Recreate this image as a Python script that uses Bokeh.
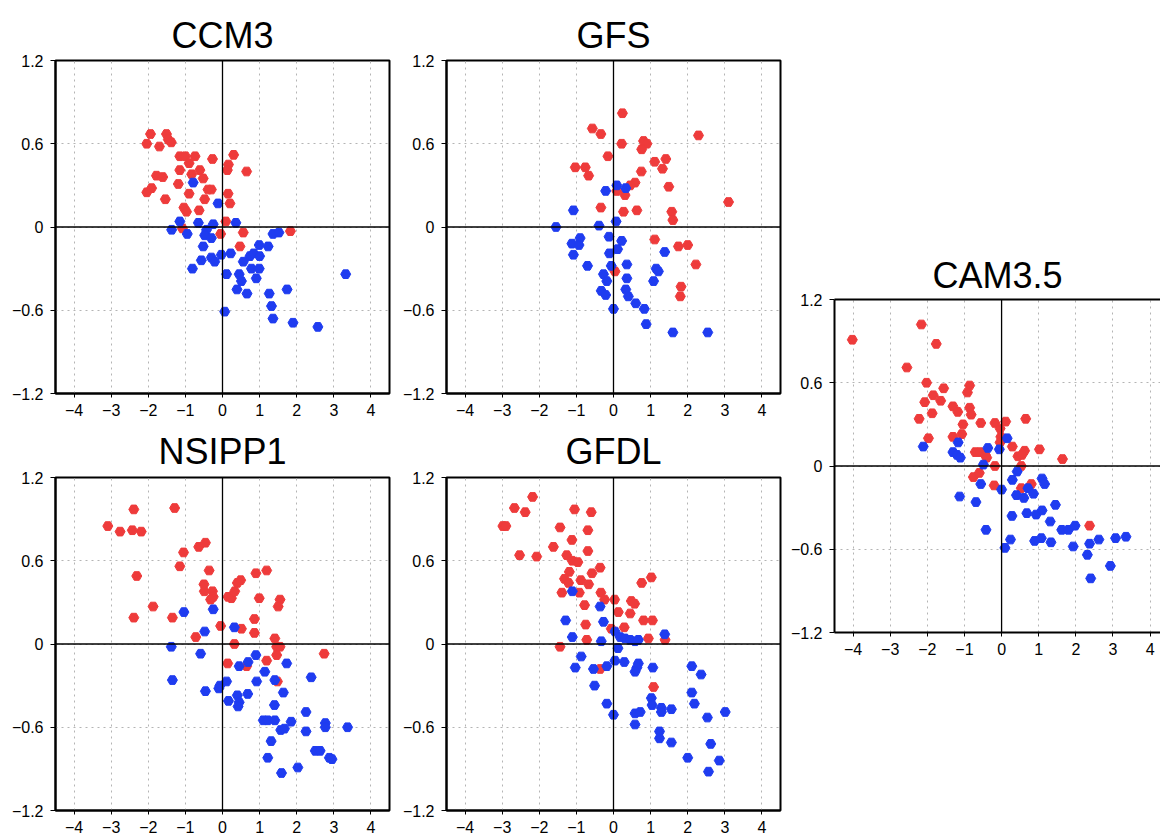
from bokeh.embed import file_html
from bokeh.layouts import column, row
from bokeh.models import FixedTicker, LinearAxis, Range1d, Spacer, Span
from bokeh.plotting import figure
from bokeh.resources import INLINE

FONT = "Liberation Sans"
RED = "#ee3b3b"
BLUE = "#1f3cf0"

X_TICKS = [-4, -3, -2, -1, 0, 1, 2, 3, 4]
X_LABELS = ["\u22124", "\u22123", "\u22122", "\u22121", "0", "1", "2", "3", "4"]
Y_TICKS = [-1.2, -0.6, 0, 0.6, 1.2]
Y_LABELS = ["\u22121.2", "\u22120.6", "0", "0.6", "1.2"]

# CCM3
ccm3_red_x = [-1.94, -2.04, -1.70, -1.51, -1.46, -1.38, -1.15, -1.00, -0.74, -0.90,
              -1.15, -1.78, -1.61, -1.91, -2.04, -1.54, -1.19, -0.83, -0.61, -0.52,
              -0.27, 0.30, 0.16, 0.13, 0.65, -0.90, -0.39, -0.30, -0.48, 0.15,
              0.20, -1.04, -0.97, -0.63, 0.09, -1.08, -0.05, 0.56, 0.47, 1.83]
ccm3_red_y = [0.67, 0.60, 0.58, 0.67, 0.63, 0.61, 0.51, 0.51, 0.51, 0.46,
              0.41, 0.37, 0.36, 0.28, 0.25, 0.20, 0.31, 0.38, 0.41, 0.35,
              0.49, 0.52, 0.45, 0.41, 0.40, 0.24, 0.27, 0.27, 0.20, 0.24,
              0.17, 0.14, 0.11, 0.12, 0.04, -0.01, -0.05, -0.04, -0.14, -0.03]
ccm3_blue_x = [-0.79, -0.12, -1.15, -1.37, -0.95, -0.65, -0.25, 0.36, -0.43, -0.48,
               -0.30, -0.52, -0.57, -0.81, -0.30, -0.21, -0.03, 0.22, 0.11, 0.45,
               0.51, 0.39, 0.66, 0.56, 0.74, 0.84, 0.99, 1.00, 0.78, 0.99,
               0.91, 1.23, 1.36, 1.52, 1.26, 1.32, 1.36, 1.74, 1.90, 2.57,
               3.32, 0.06]
ccm3_blue_y = [0.32, 0.17, 0.04, -0.02, -0.05, 0.03, 0.02, 0.03, -0.02, -0.06,
               -0.08, -0.14, -0.24, -0.30, -0.22, -0.25, -0.20, -0.19, -0.34, -0.34,
               -0.39, -0.45, -0.48, -0.25, -0.21, -0.19, -0.13, -0.21, -0.30, -0.30,
               -0.37, -0.14, -0.05, -0.04, -0.48, -0.57, -0.66, -0.45, -0.69, -0.72,
               -0.34, -0.61]

# GFS
gfs_red_x = [0.24, -0.57, -0.34, 0.22, 0.81, 0.90, 0.76, 2.29, -0.15, -1.03,
             -0.76, -0.67, 1.11, 1.41, 1.32, 0.75, 0.58, 0.45, 1.49, 0.09,
             0.31, 3.10, -0.34, 0.27, 0.63, 1.57, 1.60, 1.11, 1.75, 2.00,
             2.22, 0.04, 1.82, 1.80]
gfs_red_y = [0.82, 0.71, 0.67, 0.60, 0.62, 0.60, 0.56, 0.66, 0.51, 0.43,
             0.43, 0.37, 0.47, 0.49, 0.42, 0.40, 0.32, 0.30, 0.29, 0.26,
             0.23, 0.18, 0.14, 0.11, 0.12, 0.11, 0.05, -0.09, -0.14, -0.13,
             -0.27, -0.32, -0.43, -0.50]
gfs_blue_x = [0.09, -0.21, 0.33, -1.08, -1.55, -0.39, 0.07, -1.12, -0.90, -0.93,
              -1.08, -0.70, -0.12, 0.22, 0.11, -0.11, -0.06, 0.36, -0.27, -0.18,
              0.36, 0.33, 0.40, -0.33, -0.21, 0.60, 0.00, 0.83, 1.38, 1.15,
              1.21, 1.08, 0.88, 1.60, 2.54]
gfs_blue_y = [0.30, 0.26, 0.28, 0.12, 0.00, 0.01, 0.04, -0.12, -0.08, -0.13,
              -0.20, -0.28, -0.07, -0.10, -0.16, -0.19, -0.28, -0.27, -0.34, -0.39,
              -0.37, -0.45, -0.50, -0.46, -0.49, -0.55, -0.59, -0.59, -0.18, -0.30,
              -0.32, -0.39, -0.70, -0.76, -0.76]

# NSIPP1
nsipp1_red_x = [-2.39, -1.29, -3.09, -2.76, -2.43, -2.19, -2.31, -1.87, -2.39, -1.35,
                -1.05, -1.15, -0.64, -0.46, -0.36, -0.50, -0.49, -0.27, -0.25, -0.32,
                0.15, 0.24, 0.33, 0.40, 0.49, 0.90, 1.19, 0.99, 1.55, 1.50,
                0.86, 0.86, -0.05, 0.51, -0.72, 0.32, 1.41, 1.46, 1.55, 1.46,
                0.14, 0.65, 1.19, 2.74, 1.48]
nsipp1_red_y = [0.97, 0.98, 0.85, 0.81, 0.82, 0.81, 0.49, 0.27, 0.19, 0.19,
                0.66, 0.56, 0.70, 0.73, 0.53, 0.43, 0.38, 0.38, 0.34, 0.32,
                0.34, 0.33, 0.38, 0.44, 0.46, 0.51, 0.53, 0.33, 0.32, 0.27,
                0.18, 0.08, 0.13, 0.11, 0.05, 0.00, 0.04, -0.02, -0.02, -0.08,
                -0.14, -0.16, -0.12, -0.07, -0.27]
nsipp1_blue_x = [-1.04, -0.25, -0.48, 0.32, -1.38, -0.59, -1.35, -0.46, -0.07, 0.11,
                 0.16, 0.45, 0.69, 0.90, 0.40, 0.45, 0.68, 0.92, 1.14, 1.41,
                 1.73, 1.64, 1.40, 2.39, 2.25, 2.25, 1.85, 1.10, 1.22, 1.41,
                 1.57, 1.67, 1.31, 1.22, 1.59, 2.03, 2.50, 2.63, 2.77, 2.77,
                 2.88, 2.95, 3.37, 0.42, -0.10]
nsipp1_blue_y = [0.23, 0.25, 0.09, 0.12, -0.02, -0.07, -0.26, -0.34, -0.30, -0.27,
                 -0.41, -0.16, -0.13, -0.08, -0.37, -0.42, -0.36, -0.27, -0.20, -0.26,
                 -0.14, -0.35, -0.44, -0.24, -0.49, -0.63, -0.56, -0.55, -0.55, -0.55,
                 -0.62, -0.61, -0.70, -0.82, -0.93, -0.89, -0.77, -0.77, -0.57, -0.60,
                 -0.82, -0.83, -0.60, -0.45, -0.32]

# GFDL
gfdl_red_x = [-2.18, -2.67, -2.38, -2.98, -2.90, -2.53, -2.07, -1.05, -0.60, -1.44,
              -0.69, -1.12, -1.62, -0.69, -1.26, -1.11, -0.96, -1.19, -1.32, -1.21,
              -0.88, -0.67, -0.58, -0.36, -1.39, -0.92, -0.34, -0.24, 0.03, -0.78,
              0.48, 0.57, 0.13, 0.45, 0.76, 1.02, -0.75, 0.29, -0.06, 0.81,
              1.05, -0.72, 0.94, 1.39, -1.44, -0.36, 1.08]
gfdl_red_y = [1.06, 0.98, 0.95, 0.85, 0.85, 0.64, 0.63, 0.97, 0.95, 0.84,
              0.82, 0.75, 0.70, 0.67, 0.64, 0.60, 0.59, 0.52, 0.47, 0.44,
              0.46, 0.43, 0.51, 0.55, 0.37, 0.37, 0.37, 0.32, 0.32, 0.28,
              0.31, 0.29, 0.23, 0.22, 0.44, 0.48, 0.14, 0.12, 0.11, 0.17,
              0.17, 0.03, 0.04, 0.03, -0.02, -0.18, -0.31]
gfdl_blue_x = [-1.11, -0.36, -1.29, -0.27, -1.11, -0.33, 0.04, 0.18, 0.31, 0.45,
               0.58, 0.67, 1.38, 0.12, -0.87, -1.03, -0.54, -0.18, 0.04, 0.29,
               0.67, 0.63, 0.58, 1.06, 2.11, 2.36, -0.51, 2.11, 2.18, -0.18,
               0.00, 1.02, 1.04, 1.29, 1.29, 1.56, 0.58, 0.72, 0.58, 3.01,
               2.53, 1.24, 1.24, 1.56, 2.62, 2.00, 2.85, 2.56]
gfdl_blue_y = [0.38, 0.27, 0.17, 0.16, 0.05, 0.02, 0.09, 0.05, 0.04, 0.03,
               0.02, 0.03, 0.07, -0.03, -0.09, -0.17, -0.18, -0.16, -0.12, -0.13,
               -0.14, -0.17, -0.20, -0.17, -0.16, -0.22, -0.30, -0.35, -0.43, -0.43,
               -0.51, -0.39, -0.44, -0.46, -0.49, -0.47, -0.50, -0.49, -0.58, -0.49,
               -0.53, -0.63, -0.68, -0.71, -0.72, -0.82, -0.84, -0.92]

# CAM3.5
cam35_red_x = [-4.02, -2.16, -1.76, -2.55, -2.02, -2.07, -1.84, -1.64, -1.56, -2.22,
               -1.87, -1.31, -1.18, -0.86, -0.92, -0.86, -0.82, -1.04, -1.07, -1.31,
               -1.97, -0.56, -0.18, 0.11, -0.04, -0.02, -0.04, 0.65, 0.29, 0.62,
               1.02, 0.44, 0.55, 1.64, -0.71, -0.58, -0.44, -0.40, -0.18, 0.53,
               -0.76, -0.60, -0.20, 0.53, 0.80, 2.37]
cam35_red_y = [0.91, 1.02, 0.88, 0.71, 0.60, 0.46, 0.51, 0.47, 0.56, 0.34,
               0.38, 0.43, 0.39, 0.58, 0.53, 0.42, 0.37, 0.30, 0.23, 0.21,
               0.20, 0.31, 0.31, 0.32, 0.27, 0.21, 0.17, 0.34, 0.14, 0.11,
               0.12, 0.07, 0.08, 0.05, 0.10, 0.10, 0.08, 0.06, 0.00, 0.00,
               -0.08, -0.05, -0.14, -0.16, -0.13, -0.43]
cam35_blue_x = [-2.11, -1.17, -1.31, -1.20, -1.11, -0.37, -0.06, 0.15, -0.49, -0.56,
                0.00, 0.29, 0.42, -1.13, -0.69, -0.42, 0.40, 0.60, 0.71, 0.86,
                1.09, 1.16, 0.28, 0.68, 0.93, 1.09, 1.45, 1.31, 1.62, 1.80,
                1.98, 0.24, 0.09, 0.89, 1.07, 1.33, 1.93, 2.37, 2.62, 3.07,
                3.35, 2.31, 2.93, 2.40]
cam35_blue_y = [0.14, 0.17, 0.10, 0.08, 0.06, 0.13, 0.12, 0.20, 0.01, -0.13,
                -0.17, -0.10, -0.04, -0.22, -0.26, -0.46, -0.21, -0.23, -0.16, -0.20,
                -0.09, -0.13, -0.36, -0.34, -0.35, -0.32, -0.28, -0.40, -0.46, -0.46,
                -0.43, -0.53, -0.59, -0.54, -0.52, -0.55, -0.58, -0.56, -0.53, -0.52,
                -0.51, -0.64, -0.72, -0.81]


def make_panel(title, red_x, red_y, blue_x, blue_y, width, height, borders,
               x_end=4.5, open_right=False, title_offset=0, title_standoff=10):
    left, right, top, bottom = borders
    p = figure(
        width=width,
        height=height,
        x_range=Range1d(-4.5, x_end),
        y_range=Range1d(-1.2, 1.2),
        output_backend="svg",
        toolbar_location=None,
        tools="",
        min_border_left=left,
        min_border_right=right,
        min_border_top=top,
        min_border_bottom=bottom,
        background_fill_color="white",
        border_fill_color="white",
    )
    p.title.text = title
    p.title.align = "center"
    p.title.text_font = FONT
    p.title.text_font_size = "36px"
    p.title.text_font_style = "normal"
    p.title.text_color = "black"
    p.title.standoff = title_standoff
    p.title.offset = title_offset

    p.xaxis.ticker = FixedTicker(ticks=X_TICKS)
    p.yaxis.ticker = FixedTicker(ticks=Y_TICKS)
    p.xaxis.major_label_overrides = dict(zip(X_TICKS, X_LABELS))
    p.yaxis.major_label_overrides = dict(zip(Y_TICKS, Y_LABELS))
    p.xaxis.major_label_standoff = 6
    p.xaxis.major_tick_out = 4
    p.yaxis.major_label_standoff = 7
    p.yaxis.major_tick_out = 5
    for ax in p.xaxis + p.yaxis:
        ax.axis_line_width = 2
        ax.major_tick_in = 0
        ax.major_tick_line_width = 1
        ax.minor_tick_line_color = None
        ax.major_label_text_font = FONT
        ax.major_label_text_font_size = "16px"
        ax.major_label_text_color = "black"

    p.grid.grid_line_color = "#b4b4b4"
    p.grid.grid_line_dash = "2 4"
    p.grid.grid_line_width = 1

    if open_right:
        # frame runs off the page on the right: draw only left/bottom/top edges
        p.outline_line_color = None
        top_edge = LinearAxis(
            ticker=FixedTicker(ticks=[]),
            axis_line_width=2,
            major_tick_out=0,
            major_tick_in=0,
            major_label_standoff=0,
            major_label_text_font_size="0px",
            minor_tick_line_color=None,
        )
        p.add_layout(top_edge, "above")
    else:
        p.outline_line_color = "black"
        p.outline_line_width = 2

    p.add_layout(Span(location=0, dimension="height", line_color="black", line_width=1.3))
    p.add_layout(Span(location=0, dimension="width", line_color="black", line_width=1.3))

    p.scatter(red_x, red_y, marker="hex", size=10, fill_color=RED, line_color=RED)
    p.scatter(blue_x, blue_y, marker="hex", size=10, fill_color=BLUE, line_color=BLUE)
    return p


p_ccm3 = make_panel("CCM3", ccm3_red_x, ccm3_red_y, ccm3_blue_x, ccm3_blue_y,
                    392, 420, (55, 3, 60, 27))
p_gfs = make_panel("GFS", gfs_red_x, gfs_red_y, gfs_blue_x, gfs_blue_y,
                   390, 420, (54, 2, 60, 27))
p_nsipp1 = make_panel("NSIPP1", nsipp1_red_x, nsipp1_red_y, nsipp1_blue_x, nsipp1_blue_y,
                      392, 418, (55, 3, 57, 28), title_standoff=11)
p_gfdl = make_panel("GFDL", gfdl_red_x, gfdl_red_y, gfdl_blue_x, gfdl_blue_y,
                    390, 418, (54, 2, 57, 28), title_standoff=11)
p_cam = make_panel("CAM3.5", cam35_red_x, cam35_red_y, cam35_blue_x, cam35_blue_y,
                   378, 422, (52, 0, 59, 30), x_end=4.28, open_right=True,
                   title_offset=3, title_standoff=8)

left = column(row(p_ccm3, p_gfs), row(p_nsipp1, p_gfdl))
right = column(Spacer(width=378, height=240), p_cam)
layout = row(left, right)

open("out.html", "w").write(file_html(layout, INLINE))
